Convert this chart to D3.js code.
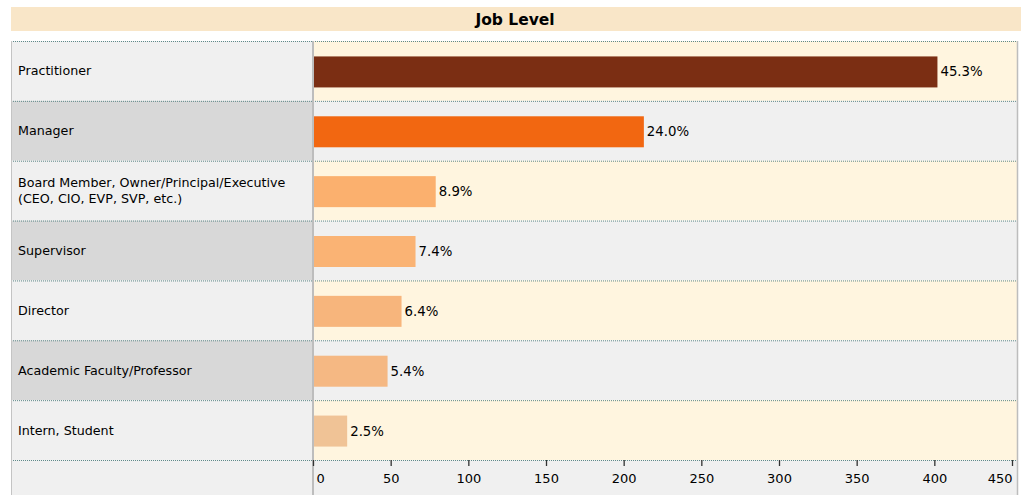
<!DOCTYPE html>
<html>
<head>
<meta charset="utf-8">
<script src="https://cdn.jsdelivr.net/npm/d3@7"></script>
<style>
  body { margin: 0; background: #ffffff; }
  svg { display: block; font-family: "DejaVu Sans", Verdana, sans-serif; }
</style>
</head>
<body>
<svg id="chart" width="1021" height="495"></svg>
<script>
// Job level of respondents (counts); labels show each share of the total
const categories = [
  "Practitioner",
  "Manager",
  "Board Member, Owner/Principal/Executive\n(CEO, CIO, EVP, SVP, etc.)",
  "Supervisor",
  "Director",
  "Academic Faculty/Professor",
  "Intern, Student"
];
const counts = [402, 213, 79, 66, 57, 48, 22];
const barColors = ["#7b2e13", "#f26711", "#fbb06e", "#fab374", "#f7b57c", "#f5b883", "#f0c396"];
const tickValues = [0, 50, 100, 150, 200, 250, 300, 350, 400, 450];
const title = "Job Level";

const total = d3.sum(counts);
const rows = categories.map((c, i) => ({ label: c, value: counts[i], color: barColors[i], pct: counts[i] / total * 100 }));

const svg = d3.select("#chart");

const L = 11, R = 1017, splitX = 313;
const plotTop = 41, plotBottom = 460, axisBottom = 495;

const x = d3.scaleLinear().domain([0, 450]).range([splitX, 1012]);
const y = d3.scaleBand().domain(d3.range(rows.length)).range([plotTop, plotBottom]);

// title banner
svg.append("rect").attr("x", L).attr("y", 7).attr("width", 1021 - L).attr("height", 24).attr("fill", "#f9e6c8");
svg.append("text").attr("x", 515).attr("y", 24.5).attr("text-anchor", "middle")
  .attr("font-size", 15.5).attr("font-weight", "bold").attr("fill", "#000").text(title);

// row backgrounds: label panel and plot panel
const rowG = svg.append("g");
rowG.selectAll("rect.lab").data(rows).join("rect").attr("class", "lab")
  .attr("x", L).attr("y", (d, i) => y(i)).attr("width", splitX - L).attr("height", y.bandwidth())
  .attr("fill", (d, i) => i % 2 === 0 ? "#f0f0f0" : "#d8d8d8");
rowG.selectAll("rect.plot").data(rows).join("rect").attr("class", "plot")
  .attr("x", splitX).attr("y", (d, i) => y(i)).attr("width", R - splitX).attr("height", y.bandwidth())
  .attr("fill", (d, i) => i % 2 === 0 ? "#fff5df" : "#f0f0f0");

// axis strip
svg.append("rect").attr("x", L).attr("y", plotBottom).attr("width", R - L).attr("height", axisBottom - plotBottom).attr("fill", "#f0f0f0");

// category labels
rowG.selectAll("text.cat").data(rows).join("text").attr("class", "cat")
  .attr("font-size", 12.7).attr("fill", "#000")
  .each(function (d, i) {
    const lines = d.label.split("\n");
    const cy = y(i) + y.bandwidth() / 2;
    const lh = 16;
    const t = d3.select(this);
    lines.forEach((ln, k) => {
      t.append("tspan").attr("x", 18)
        .attr("y", cy + (k - (lines.length - 1) / 2) * lh + 4.5)
        .text(ln);
    });
  });

// row separators (dotted)
const seps = d3.range(rows.length + 1).map(i => i < rows.length ? y(i) : plotBottom);
svg.selectAll("line.sep").data(seps).join("line").attr("class", "sep")
  .attr("x1", L).attr("x2", R).attr("y1", d => d + 0.5).attr("y2", d => d + 0.5)
  .attr("stroke", "#5f8a8a").attr("stroke-width", 1).attr("stroke-dasharray", "1,1");

// bars
const barH = 31;
svg.selectAll("rect.bar").data(rows).join("rect").attr("class", "bar")
  .attr("x", x(0)).attr("y", (d, i) => y(i) + (y.bandwidth() - barH) / 2 + 1)
  .attr("width", d => x(d.value) - x(0)).attr("height", barH)
  .attr("fill", d => d.color);

// value labels
svg.selectAll("text.val").data(rows).join("text").attr("class", "val")
  .attr("x", d => x(d.value) + 3).attr("y", (d, i) => y(i) + y.bandwidth() / 2 + 5.5)
  .attr("font-size", 13.3).attr("fill", "#000")
  .text(d => d.pct.toFixed(1) + "%");

// panel borders
svg.append("line").attr("x1", L + 0.5).attr("x2", L + 0.5).attr("y1", plotTop).attr("y2", axisBottom)
  .attr("stroke", "#c4c4c4").attr("stroke-width", 1);
svg.append("line").attr("x1", splitX).attr("x2", splitX).attr("y1", plotTop).attr("y2", axisBottom)
  .attr("stroke", "#bdbdbd").attr("stroke-width", 2);
svg.append("line").attr("x1", R + 0.5).attr("x2", R + 0.5).attr("y1", plotTop).attr("y2", axisBottom)
  .attr("stroke", "#bdbdbd").attr("stroke-width", 1.5);

// x axis
const axis = d3.axisBottom(x).tickValues(tickValues).tickSize(6).tickSizeOuter(0).tickPadding(5);
const ag = svg.append("g").attr("transform", `translate(0,${plotBottom})`).call(axis);
ag.select(".domain").remove();
ag.selectAll(".tick line").attr("stroke", "#333").attr("stroke-width", 1.3);
ag.selectAll(".tick text").attr("font-size", 13).attr("fill", "#000")
  .attr("font-family", "DejaVu Sans, Verdana, sans-serif")
  .attr("dy", "0.9em");
ag.selectAll(".tick").filter(d => d === tickValues[0]).select("text")
  .attr("text-anchor", "start").attr("x", 3);
ag.selectAll(".tick").filter(d => d === tickValues[tickValues.length - 1]).select("text")
  .attr("text-anchor", "end").attr("x", 0);
</script>
</body>
</html>
